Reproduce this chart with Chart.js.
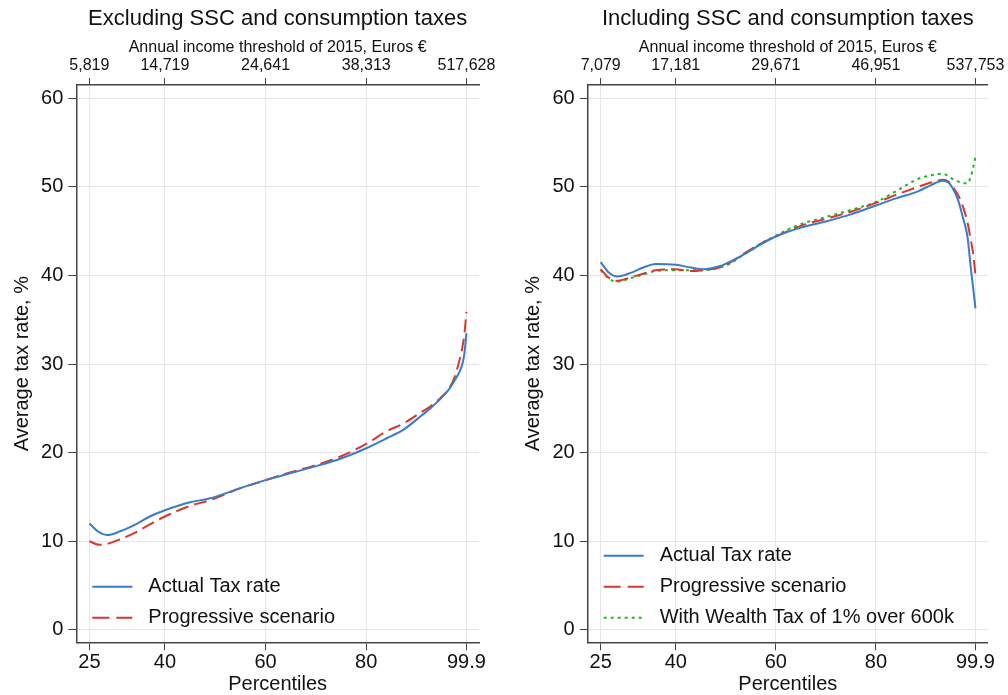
<!DOCTYPE html>
<html>
<head>
<meta charset="utf-8">
<script src="https://cdn.jsdelivr.net/npm/chart.js@4.4.1/dist/chart.umd.min.js"></script>
<style>
  body { margin: 0; background: #fff; }
  .wrap { display: flex; width: 1008px; height: 695px; }
  .panel { position: relative; width: 504px; height: 695px; }
</style>
</head>
<body>
<div class="wrap">
  <div class="panel"><canvas id="leftChart"></canvas></div>
  <div class="panel"><canvas id="rightChart"></canvas></div>
</div>
<script>
// axis ticks
const pctlTicks = [25, 40, 60, 80, 99.9];
const incomeLeft = ['5,819', '14,719', '24,641', '38,313', '517,628'];
const incomeRight = ['7,079', '17,181', '29,671', '46,951', '537,753'];
const rateTicks = [0, 10, 20, 30, 40, 50, 60];

// left panel: excluding SSC and consumption taxes
const pctlLeft = [25, 27, 28.5, 31, 34.5, 37, 40, 45, 49, 55, 60, 65, 69.5, 75, 80, 84, 87.4, 91, 92.7, 94.8, 96.5, 97.6, 98.5, 99.1, 99.5, 99.9];
const actualLeft = [12.0, 11.0, 10.7, 11.1, 12.0, 12.8, 13.5, 14.4, 14.85, 16.0, 16.9, 17.7, 18.4, 19.35, 20.5, 21.6, 22.6, 24.2, 25.0, 26.1, 27.2, 28.2, 29.1, 30.0, 31.2, 33.5];
const progLeft = [10.0, 9.6, 9.7, 10.2, 11.1, 11.9, 12.8, 14.0, 14.65, 16.0, 16.9, 17.8, 18.5, 19.6, 21.0, 22.4, 23.3, 24.6, 25.2, 26.2, 27.3, 28.6, 30.4, 31.9, 33.4, 35.9];

// right panel: including SSC and consumption taxes
const pctlRight = [25, 26.5, 28.3, 31, 33.5, 36, 40, 43, 45.5, 48.7, 51, 54, 57, 60, 65, 70, 75, 80, 84, 88.4, 91, 93.3, 94.5, 95.6, 96.5, 97.5, 98.3, 99, 99.5, 99.9];
const actualRight = [41.5, 40.4, 39.9, 40.3, 40.9, 41.3, 41.2, 40.9, 40.7, 41.05, 41.6, 42.5, 43.5, 44.4, 45.4, 46.1, 46.9, 47.9, 48.7, 49.5, 50.2, 50.7, 50.5, 49.6, 48.4, 46.3, 44.4, 40.7, 38.3, 36.3];
const progRight = [40.7, 39.8, 39.4, 39.8, 40.2, 40.6, 40.7, 40.5, 40.6, 40.9, 41.5, 42.6, 43.6, 44.4, 45.6, 46.4, 47.2, 48.2, 49.1, 50.0, 50.5, 50.8, 50.6, 49.8, 49.0, 47.6, 46.0, 43.9, 42.2, 40.0];
const wealthRight = [40.6, 39.7, 39.3, 39.7, 40.1, 40.5, 40.6, 40.6, 40.6, 40.9, 41.4, 42.5, 43.6, 44.5, 45.8, 46.6, 47.4, 48.3, 49.5, 50.9, 51.3, 51.5, 51.2, 50.8, 50.6, 50.4, 50.4, 51.2, 52.3, 53.4];

const FONT = '"Liberation Sans", Arial, sans-serif';
const INK = '#111';
const AXIS = '#444';
const GRID = '#e6e6e6';

Chart.defaults.font.family = FONT;
Chart.defaults.color = INK;

// legend drawn inside the plot, bottom left
const insideLegend = {
  id: 'insideLegend',
  afterDatasetsDraw(chart) {
    const { ctx, chartArea } = chart;
    const sets = chart.data.datasets;
    ctx.save();
    ctx.font = '20px ' + FONT;
    ctx.textBaseline = 'middle';
    sets.forEach((ds, i) => {
      const y = chartArea.bottom - 24.5 - (sets.length - 1 - i) * 31;
      const x = chartArea.left + 16;
      ctx.beginPath();
      ctx.setLineDash(ds.legendDash);
      ctx.strokeStyle = ds.borderColor;
      ctx.lineWidth = 2;
      ctx.moveTo(x, y);
      ctx.lineTo(x + 40, y);
      ctx.stroke();
      ctx.setLineDash([]);
      ctx.fillStyle = INK;
      ctx.fillText(ds.label, x + 56, y);
    });
    ctx.restore();
  }
};

function series(label, pctl, values, color, dash, legendDash) {
  return {
    label: label,
    data: pctl.map((p, i) => ({ x: p, y: values[i] })),
    borderColor: color,
    borderWidth: 2,
    borderDash: dash,
    legendDash: legendDash,
    pointRadius: 0,
    fill: false,
    cubicInterpolationMode: 'monotone'
  };
}

function makeChart(id, title, incomeLabels, yWidth, yTitlePad, padRight, datasets) {
  const xTicks = s => { s.ticks = pctlTicks.map(v => ({ value: v })); };
  new Chart(document.getElementById(id), {
    type: 'line',
    data: { datasets: datasets },
    options: {
      responsive: true,
      maintainAspectRatio: false,
      animation: false,
      layout: { padding: { left: 0, right: padRight, top: 0, bottom: 0 } },
      plugins: {
        legend: { display: false },
        tooltip: { enabled: false },
        title: {
          display: true,
          text: title,
          fullSize: false,
          color: INK,
          font: { size: 22, weight: 'normal', lineHeight: 1.2 },
          padding: { top: 5.5, bottom: 0 }
        }
      },
      scales: {
        x: {
          type: 'linear',
          position: 'bottom',
          min: 22.4,
          max: 102.4,
          afterBuildTicks: xTicks,
          afterFit: s => { s.height = 52.7; },
          ticks: { color: INK, font: { size: 20 }, padding: 0, maxRotation: 0, autoSkip: false, callback: v => String(v) },
          grid: { color: GRID, tickColor: AXIS, tickLength: 8 },
          border: { color: AXIS, width: 1.5 },
          title: { display: true, text: 'Percentiles', color: INK, font: { size: 20, lineHeight: 1 }, padding: { top: 0, bottom: 1 } }
        },
        x2: {
          type: 'linear',
          position: 'top',
          display: true,
          min: 22.4,
          max: 102.4,
          afterBuildTicks: xTicks,
          afterFit: s => { s.height = 53.1; },
          ticks: { color: INK, font: { size: 16 }, padding: 3, maxRotation: 0, autoSkip: false, callback: (v, i) => incomeLabels[i] },
          grid: { drawOnChartArea: false, tickColor: AXIS, tickLength: 7 },
          border: { color: AXIS, width: 1.5 },
          title: { display: true, text: 'Annual income threshold of 2015, Euros €', color: INK, font: { size: 16, lineHeight: 1.2 }, padding: { top: 6, bottom: 0 } }
        },
        y: {
          type: 'linear',
          min: -1.4,
          max: 61.5,
          afterBuildTicks: s => { s.ticks = rateTicks.map(v => ({ value: v })); },
          afterFit: s => { s.width = yWidth; },
          ticks: { color: INK, font: { size: 20 }, padding: 5 },
          grid: { color: GRID, tickColor: AXIS, tickLength: 8 },
          border: { color: AXIS, width: 1.5 },
          title: { display: true, text: 'Average tax rate, %', color: INK, font: { size: 20, lineHeight: 1.2 }, padding: { top: yTitlePad, bottom: 0 } }
        }
      }
    },
    plugins: [insideLegend]
  });
}

const BLUE = '#3a7cc6';
const RED = '#d8372f';
const GREEN = '#1db81d';

makeChart('leftChart', 'Excluding SSC and consumption taxes', incomeLeft, 76.3, 10, 25, [
  series('Actual Tax rate', pctlLeft, actualLeft, BLUE, [], []),
  series('Progressive scenario', pctlLeft, progLeft, RED, [13, 6], [17, 7])
]);

makeChart('rightChart', 'Including SSC and consumption taxes', incomeRight, 83.7, 17, 16.3, [
  series('Actual Tax rate', pctlRight, actualRight, BLUE, [], []),
  series('Progressive scenario', pctlRight, progRight, RED, [13, 6], [17, 7]),
  series('With Wealth Tax of 1% over 600k', pctlRight, wealthRight, GREEN, [3, 4], [3, 4])
]);
</script>
</body>
</html>
